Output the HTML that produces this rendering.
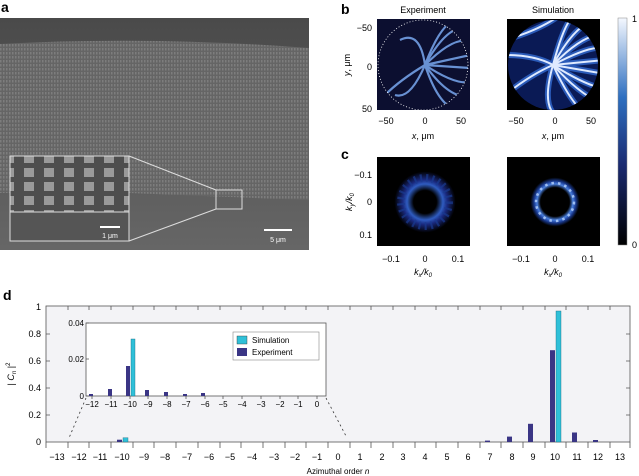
<!DOCTYPE html>
<html><head><meta charset="utf-8"><style>
body{margin:0;background:#fff;width:639px;height:476px;overflow:hidden}
svg{display:block;font-family:"Liberation Sans",sans-serif}
</style></head><body>
<svg width="639" height="476" viewBox="0 0 639 476" xmlns="http://www.w3.org/2000/svg">
<defs>
<linearGradient id="cb" x1="0" y1="1" x2="0" y2="0">
<stop offset="0" stop-color="#000"/><stop offset="0.35" stop-color="#1a2a70"/><stop offset="0.65" stop-color="#2e6fc0"/><stop offset="1" stop-color="#f4f8ff"/></linearGradient>
<linearGradient id="sem" x1="0" y1="0" x2="0" y2="1">
<stop offset="0" stop-color="#4a4a4a"/><stop offset="1" stop-color="#666"/></linearGradient>
<pattern id="pil" width="3" height="4" patternUnits="userSpaceOnUse">
<rect width="3" height="4" fill="#656565"/><rect width="1.5" height="2.5" fill="#7d7d7d"/></pattern>
<pattern id="pil2" width="20" height="14" patternUnits="userSpaceOnUse">
<rect width="20" height="14" fill="#4e4e4e"/><rect x="4" width="10" height="9" fill="#9a9a9a"/></pattern>
<radialGradient id="ring1"><stop offset="0.32" stop-color="#000"/><stop offset="0.5" stop-color="#2f5cc0"/><stop offset="0.62" stop-color="#1a2a80"/><stop offset="0.85" stop-color="#000"/></radialGradient>
<radialGradient id="ring2"><stop offset="0.4" stop-color="#000"/><stop offset="0.5" stop-color="#4a80e0"/><stop offset="0.58" stop-color="#1a3a90"/><stop offset="0.68" stop-color="#000"/></radialGradient>
<clipPath id="c1"><circle cx="553" cy="65" r="45"/></clipPath>
<clipPath id="c2"><circle cx="423" cy="65" r="45"/></clipPath>
</defs>

<!-- panel a -->
<text x="1" y="12" font-size="14" font-weight="bold">a</text>
<rect x="0" y="18" width="309" height="232" fill="url(#sem)"/>
<path d="M0 44 Q150 36 309 48 L309 200 Q200 196 130 193 L0 193 Z" fill="url(#pil)"/>
<rect x="10" y="156" width="119" height="85" fill="url(#pil2)" stroke="#ddd" stroke-width="1"/>
<rect x="10" y="212" width="119" height="29" fill="#555" stroke="#ddd" stroke-width="1"/>
<rect x="216" y="190" width="26" height="19" fill="none" stroke="#ddd"/>
<line x1="129" y1="156" x2="216" y2="190" stroke="#ddd"/>
<line x1="129" y1="241" x2="216" y2="209" stroke="#ddd"/>
<rect x="100" y="226" width="20" height="2" fill="#fff"/>
<text x="110" y="238" font-size="7" fill="#fff" text-anchor="middle">1 μm</text>
<rect x="264" y="229" width="28" height="2" fill="#fff"/>
<text x="278" y="242" font-size="7" fill="#fff" text-anchor="middle">5 μm</text>

<!-- panel b -->
<text x="341" y="14" font-size="14" font-weight="bold">b</text>
<text x="423" y="13" font-size="9" text-anchor="middle">Experiment</text>
<text x="553" y="13" font-size="9" text-anchor="middle">Simulation</text>
<rect x="377" y="19" width="93" height="91" fill="#0c0f30"/>
<g clip-path="url(#c2)">
<g stroke="#7aa8f0" stroke-width="2.2" fill="none" opacity="0.85">
<path d="M425 65 Q450 20 470 30"/><path d="M425 65 Q455 35 470 42"/><path d="M425 65 L470 55"/><path d="M425 65 L470 68"/><path d="M425 65 Q455 85 470 82"/><path d="M425 65 Q450 100 470 96"/><path d="M425 65 Q440 110 460 110"/><path d="M425 65 Q440 25 455 20"/><path d="M425 65 Q420 30 400 40"/><path d="M425 65 Q410 100 395 95"/><path d="M425 65 Q400 80 385 95"/>
</g></g>
<circle cx="423" cy="65" r="45" fill="none" stroke="#fff" stroke-dasharray="1 2" stroke-width="0.8"/>
<rect x="507" y="19" width="93" height="91" fill="#000"/>
<circle cx="553" cy="65" r="45" fill="#0a1a55"/>
<g clip-path="url(#c1)" fill="none">
<g stroke="#2a5ab8" stroke-width="6">
<path d="M553 65 Q580 15 605 20"/><path d="M553 65 Q585 32 605 35"/><path d="M553 65 Q590 45 605 48"/><path d="M553 65 L605 60"/><path d="M553 65 L605 74"/><path d="M553 65 Q590 88 605 88"/><path d="M553 65 Q585 100 605 103"/><path d="M553 65 Q575 112 590 115"/><path d="M553 65 Q565 20 575 15"/><path d="M553 65 Q540 110 560 118"/>
<path d="M505 40 Q540 30 560 15"/><path d="M505 95 Q530 75 553 65"/><path d="M505 55 Q535 55 553 65"/><path d="M505 110 Q520 100 540 115"/>
</g>
<g stroke="#dfeaff" stroke-width="2">
<path d="M553 65 Q580 15 605 20"/><path d="M553 65 Q585 32 605 35"/><path d="M553 65 Q590 45 605 48"/><path d="M553 65 L605 60"/><path d="M553 65 L605 74"/><path d="M553 65 Q590 88 605 88"/><path d="M553 65 Q585 100 605 103"/><path d="M553 65 Q575 112 590 115"/><path d="M553 65 Q565 20 575 15"/><path d="M553 65 Q540 110 560 118"/>
<path d="M505 40 Q540 30 560 15"/><path d="M505 95 Q530 75 553 65"/><path d="M505 55 Q535 55 553 65"/><path d="M505 110 Q520 100 540 115"/>
</g></g>
<g font-size="9" text-anchor="end"><text x="372" y="31">−50</text><text x="372" y="70">0</text><text x="372" y="112">50</text></g>
<text x="350" y="65" font-size="9" text-anchor="middle" transform="rotate(-90 350 65)"><tspan font-style="italic">y</tspan>, μm</text>
<g font-size="9" text-anchor="middle"><text x="386" y="124">−50</text><text x="425" y="124">0</text><text x="461" y="124">50</text>
<text x="516" y="124">−50</text><text x="555" y="124">0</text><text x="591" y="124">50</text>
<text x="423" y="139"><tspan font-style="italic">x</tspan>, μm</text><text x="553" y="139"><tspan font-style="italic">x</tspan>, μm</text></g>

<!-- colorbar -->
<rect x="618" y="18" width="9" height="227" fill="url(#cb)" stroke="#888" stroke-width="0.5"/>
<text x="632" y="22" font-size="9">1</text><text x="632" y="248" font-size="9">0</text>

<!-- panel c -->
<text x="341" y="159" font-size="14" font-weight="bold">c</text>
<rect x="377" y="157" width="93" height="89" fill="#000"/>
<circle cx="425" cy="202" r="36" fill="url(#ring1)"/>
<circle cx="425" cy="202" r="24" fill="none" stroke="#1a3a90" stroke-width="8" stroke-dasharray="2 4" opacity="0.7"/>
<rect x="507" y="157" width="93" height="89" fill="#000"/>
<circle cx="555" cy="202" r="36" fill="url(#ring2)"/>
<circle cx="555" cy="202" r="19" fill="none" stroke="#b8d4ff" stroke-width="2.5" stroke-dasharray="2.5 4.1" opacity="0.8"/>
<g font-size="9" text-anchor="end"><text x="372" y="178">−0.1</text><text x="372" y="205">0</text><text x="372" y="238">0.1</text></g>
<text x="352" y="202" font-size="9" text-anchor="middle" font-style="italic" transform="rotate(-90 352 202)">k<tspan font-size="6" dy="2">y</tspan><tspan dy="-2">/k</tspan><tspan font-size="6" dy="2">0</tspan></text>
<g font-size="9" text-anchor="middle"><text x="391" y="262">−0.1</text><text x="425" y="262">0</text><text x="458" y="262">0.1</text>
<text x="521" y="262">−0.1</text><text x="555" y="262">0</text><text x="588" y="262">0.1</text>
<text x="423" y="275" font-style="italic">k<tspan font-size="6" dy="2">x</tspan><tspan dy="-2">/k</tspan><tspan font-size="6" dy="2">0</tspan></text>
<text x="553" y="275" font-style="italic">k<tspan font-size="6" dy="2">x</tspan><tspan dy="-2">/k</tspan><tspan font-size="6" dy="2">0</tspan></text></g>

<!-- panel d -->
<text x="3" y="300" font-size="14" font-weight="bold">d</text>
<rect x="46" y="306" width="584" height="136" fill="#f3f3f6" stroke="#555" stroke-width="0.8"/>
<g stroke="#555" stroke-width="0.8">
<path d="M46 442v6M68 442v6M89 442v6M111 442v6M133 442v6M154 442v6M176 442v6M198 442v6M220 442v6M241 442v6M263 442v6M285 442v6M306 442v6M328 442v6M350 442v6M371 442v6M393 442v6M415 442v6M436 442v6M458 442v6M480 442v6M501 442v6M523 442v6M545 442v6M566 442v6M588 442v6M610 442v6M630 442v6"/>
<path d="M68 306v4M89 306v4M111 306v4M133 306v4M154 306v4M176 306v4M198 306v4M220 306v4M241 306v4M263 306v4M285 306v4M306 306v4M328 306v4M350 306v4M371 306v4M393 306v4M415 306v4M436 306v4M458 306v4M480 306v4M501 306v4M523 306v4M545 306v4M566 306v4M588 306v4M610 306v4"/>
<path d="M46 415h4M46 388h4M46 361h4M46 334h4M630 415h-4M630 388h-4M630 361h-4M630 334h-4"/>
</g>
<g font-size="9" text-anchor="end"><text x="41" y="445">0</text><text x="41" y="418">0.2</text><text x="41" y="391">0.4</text><text x="41" y="364">0.6</text><text x="41" y="337">0.8</text><text x="41" y="310">1</text></g>
<text x="14" y="374" font-size="9" text-anchor="middle" transform="rotate(-90 14 374)">| <tspan font-style="italic">C</tspan><tspan font-size="6" dy="2" font-style="italic">n</tspan><tspan dy="-2"> |</tspan><tspan font-size="6" dy="-4">2</tspan></text>
<g font-size="9" text-anchor="middle">
<text x="57" y="460">−13</text><text x="79" y="460">−12</text><text x="100" y="460">−11</text><text x="122" y="460">−10</text><text x="144" y="460">−9</text><text x="165" y="460">−8</text><text x="187" y="460">−7</text><text x="209" y="460">−6</text><text x="230" y="460">−5</text><text x="252" y="460">−4</text><text x="274" y="460">−3</text><text x="295" y="460">−2</text><text x="317" y="460">−1</text><text x="338" y="460">0</text><text x="360" y="460">1</text><text x="382" y="460">2</text><text x="403" y="460">3</text><text x="425" y="460">4</text><text x="447" y="460">5</text><text x="468" y="460">6</text><text x="490" y="460">7</text><text x="512" y="460">8</text><text x="533" y="460">9</text><text x="555" y="460">10</text><text x="577" y="460">11</text><text x="598" y="460">12</text><text x="620" y="460">13</text>
<text x="338" y="474" font-size="8">Azimuthal order <tspan font-style="italic">n</tspan></text></g>
<g fill="#3a3585">
<rect x="117" y="439.7" width="5" height="2.3"/>
<rect x="485" y="440.6" width="5" height="1.4"/>
<rect x="507" y="436.6" width="5" height="5.4"/>
<rect x="528" y="423.8" width="5" height="18.2"/>
<rect x="550" y="350.2" width="5" height="91.8"/>
<rect x="572" y="432.5" width="5" height="9.5"/>
<rect x="593" y="440" width="5" height="2"/>
</g>
<g fill="#2fc0d8" stroke="#1a6a80" stroke-width="0.4">
<rect x="123" y="437.8" width="5" height="4.2"/>
<rect x="556" y="311" width="5" height="131"/>
</g>
<g stroke="#333" stroke-dasharray="2 3" stroke-width="0.8">
<line x1="86" y1="398" x2="69" y2="438"/><line x1="326" y1="398" x2="346" y2="436"/></g>
<rect x="86" y="323" width="240" height="73" fill="#fff" stroke="#555" stroke-width="0.8"/>
<g stroke="#555" stroke-width="0.8"><path d="M92 396v3M111 396v3M130 396v3M148 396v3M167 396v3M186 396v3M205 396v3M223 396v3M242 396v3M261 396v3M280 396v3M298 396v3M317 396v3"/>
<path d="M86 323h3M86 359h3M86 396h3"/></g>
<g font-size="8" text-anchor="end"><text x="84" y="326">0.04</text><text x="84" y="362">0.02</text><text x="84" y="399">0</text></g>
<g font-size="8" text-anchor="middle"><text x="92" y="407">−12</text><text x="111" y="407">−11</text><text x="130" y="407">−10</text><text x="148" y="407">−9</text><text x="167" y="407">−8</text><text x="186" y="407">−7</text><text x="205" y="407">−6</text><text x="223" y="407">−5</text><text x="242" y="407">−4</text><text x="261" y="407">−3</text><text x="280" y="407">−2</text><text x="298" y="407">−1</text><text x="317" y="407">0</text></g>
<g fill="#3a3585">
<rect x="89" y="394" width="4" height="2"/><rect x="108" y="389" width="4" height="7"/><rect x="126" y="366" width="4" height="30"/><rect x="145" y="390" width="4" height="6"/><rect x="164" y="392" width="4" height="4"/><rect x="183" y="394" width="4" height="2"/><rect x="201" y="393" width="4" height="3"/></g>
<rect x="131" y="339" width="4" height="57" fill="#2fc0d8" stroke="#1a6a80" stroke-width="0.4"/>
<rect x="233" y="332" width="86" height="28" fill="#fff" stroke="#888" stroke-width="0.6"/>
<rect x="237" y="336" width="10" height="8" fill="#2fc0d8" stroke="#333" stroke-width="0.4"/>
<rect x="237" y="348" width="10" height="8" fill="#3a3585"/>
<text x="252" y="343" font-size="8">Simulation</text>
<text x="252" y="355" font-size="8">Experiment</text>
</svg>
</body></html>
